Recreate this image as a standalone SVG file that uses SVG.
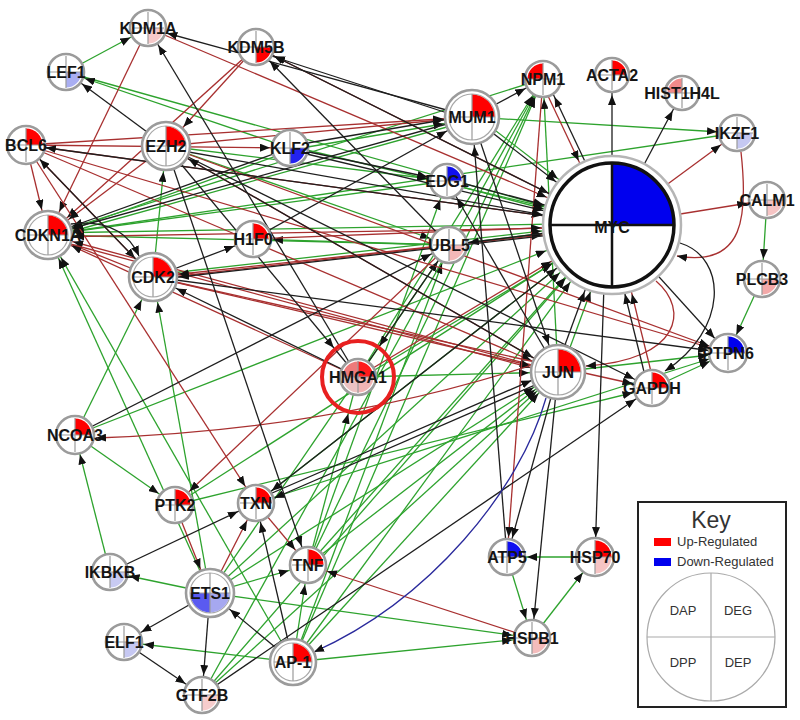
<svg xmlns="http://www.w3.org/2000/svg" width="800" height="720" viewBox="0 0 800 720">
<style>
.e path{fill:none;stroke-width:1.3}
.k path{stroke:#1e1e1e}
.r path{stroke:#a83030}
.g path{stroke:#2ea32e}
.b path{stroke:#2a2a9c}
.ring{fill:#fff;stroke:#9b9b9b;stroke-width:2.6}
.ring2{fill:none;stroke:#a8a8a8;stroke-width:1.2}
.x{stroke:#9b9b9b;stroke-width:1.2;fill:none}
.t{font-family:"Liberation Sans",Arial,sans-serif;font-weight:bold;font-size:16px;text-anchor:middle;fill:#151515}
.kt{font-family:"Liberation Sans",Arial,sans-serif;fill:#333}
</style>
<defs>
<marker id="a18" viewBox="0 0 30 8" refX="30" refY="4" markerWidth="30" markerHeight="8" markerUnits="userSpaceOnUse" orient="auto"><path d="M0,0L10,4L0,8Z" fill="#111"/></marker>
<marker id="a24" viewBox="0 0 36 8" refX="36" refY="4" markerWidth="36" markerHeight="8" markerUnits="userSpaceOnUse" orient="auto"><path d="M0,0L10,4L0,8Z" fill="#111"/></marker>
<marker id="a27" viewBox="0 0 39 8" refX="39" refY="4" markerWidth="39" markerHeight="8" markerUnits="userSpaceOnUse" orient="auto"><path d="M0,0L10,4L0,8Z" fill="#111"/></marker>
<marker id="a36" viewBox="0 0 48 8" refX="48" refY="4" markerWidth="48" markerHeight="8" markerUnits="userSpaceOnUse" orient="auto"><path d="M0,0L10,4L0,8Z" fill="#111"/></marker>
<marker id="a70" viewBox="0 0 81 8" refX="81" refY="4" markerWidth="81" markerHeight="8" markerUnits="userSpaceOnUse" orient="auto"><path d="M0,0L10,4L0,8Z" fill="#111"/></marker>
<marker id="a0" viewBox="0 0 10 8" refX="10" refY="4" markerWidth="10" markerHeight="8" markerUnits="userSpaceOnUse" orient="auto"><path d="M0,0L10,4L0,8Z" fill="#111"/></marker>
</defs>
<rect width="800" height="720" fill="#fff"/>
<g id="connectors" class="e">
<g class="g">
<path d="M66,72L148,28" marker-end="url(#a18)"/>
<path d="M66,72L612,225" marker-end="url(#a70)"/>
<path d="M290,148L66,72" marker-end="url(#a18)"/>
<path d="M166,146L449,245" marker-end="url(#a18)"/>
<path d="M290,150L472,119" marker-end="url(#a27)"/>
<path d="M290,146L612,223" marker-end="url(#a70)"/>
<path d="M290,151L48,238" marker-end="url(#a24)"/>
<path d="M472,120L48,238" marker-end="url(#a24)"/>
<path d="M447,181L48,235" marker-end="url(#a24)"/>
<path d="M449,245L48,235" marker-end="url(#a24)"/>
<path d="M612,223L48,233" marker-end="url(#a24)"/>
<path d="M210,593L48,235" marker-end="url(#a24)"/>
<path d="M293,662L48,235" marker-end="url(#a24)"/>
<path d="M737,133L48,235" marker-end="url(#a24)"/>
<path d="M153,277L166,146" marker-end="url(#a24)"/>
<path d="M153,275L612,223" marker-end="url(#a70)"/>
<path d="M75,435L153,277" marker-end="url(#a24)"/>
<path d="M210,593L153,277" marker-end="url(#a24)"/>
<path d="M472,117L737,133" marker-end="url(#a18)"/>
<path d="M474,114L614,222" marker-end="url(#a70)"/>
<path d="M358,377L543,79" marker-end="url(#a18)"/>
<path d="M308,565L543,79" marker-end="url(#a18)"/>
<path d="M558,372L543,79" marker-end="url(#a18)"/>
<path d="M543,79L48,235" marker-end="url(#a24)"/>
<path d="M561,372L615,225" marker-end="url(#a70)"/>
<path d="M449,245L612,225" marker-end="url(#a70)"/>
<path d="M447,183L612,227" marker-end="url(#a70)"/>
<path d="M358,380L612,228" marker-end="url(#a70)"/>
<path d="M293,662L612,225" marker-end="url(#a70)"/>
<path d="M210,593L612,225" marker-end="url(#a70)"/>
<path d="M308,565L612,225" marker-end="url(#a70)"/>
<path d="M202,695L612,225" marker-end="url(#a70)"/>
<path d="M75,435L612,225" marker-end="url(#a70)"/>
<path d="M256,503L612,225" marker-end="url(#a70)"/>
<path d="M358,377L558,372" marker-end="url(#a27)"/>
<path d="M293,662L558,372" marker-end="url(#a27)"/>
<path d="M210,593L558,372" marker-end="url(#a27)"/>
<path d="M308,565L558,372" marker-end="url(#a27)"/>
<path d="M202,695L558,372" marker-end="url(#a27)"/>
<path d="M558,372L728,353" marker-end="url(#a18)"/>
<path d="M652,388L728,353" marker-end="url(#a18)"/>
<path d="M175,505L652,388" marker-end="url(#a18)"/>
<path d="M256,503L728,353" marker-end="url(#a18)"/>
<path d="M762,279L728,353" marker-end="url(#a18)"/>
<path d="M767,200L762,279" marker-end="url(#a18)"/>
<path d="M595,557L507,557" marker-end="url(#a18)"/>
<path d="M507,557L532,638" marker-end="url(#a18)"/>
<path d="M532,638L595,557" marker-end="url(#a18)"/>
<path d="M293,662L532,638" marker-end="url(#a18)"/>
<path d="M210,593L532,638" marker-end="url(#a18)"/>
<path d="M75,435L175,505" marker-end="url(#a18)"/>
<path d="M110,572L75,435" marker-end="url(#a18)"/>
<path d="M210,593L110,572" marker-end="url(#a18)"/>
<path d="M293,662L124,642" marker-end="url(#a18)"/>
<path d="M293,662L308,565" marker-end="url(#a18)"/>
<path d="M210,593L308,565" marker-end="url(#a18)"/>
<path d="M308,565L358,377" marker-end="url(#a36)"/>
<path d="M449,245L253,239" marker-end="url(#a18)"/>
<path d="M308,565L447,181" marker-end="url(#a18)"/>
<path d="M293,662L449,245" marker-end="url(#a18)"/>
<path d="M202,695L543,79" marker-end="url(#a18)"/>
<path d="M166,146L447,181" marker-end="url(#a18)"/>
<path d="M175,505L612,225" marker-end="url(#a70)"/>
<path d="M293,662L543,79" marker-end="url(#a18)"/>
<path d="M210,593L449,245" marker-end="url(#a18)"/>
</g>
<g class="r">
<path d="M148,28L48,235" marker-end="url(#a24)"/>
<path d="M148,28L612,225" marker-end="url(#a70)"/>
<path d="M256,47L166,146" marker-end="url(#a24)"/>
<path d="M256,47L48,235" marker-end="url(#a24)"/>
<path d="M256,47L612,225" marker-end="url(#a70)"/>
<path d="M26,145L48,235" marker-end="url(#a24)"/>
<path d="M26,145L472,117" marker-end="url(#a27)"/>
<path d="M26,145L612,225" marker-end="url(#a70)"/>
<path d="M26,145L728,353" marker-end="url(#a18)"/>
<path d="M26,145L256,503" marker-end="url(#a18)"/>
<path d="M26,145L153,277" marker-end="url(#a24)"/>
<path d="M26,145L558,372" marker-end="url(#a27)"/>
<path d="M26,145L290,148" marker-end="url(#a18)"/>
<path d="M166,146L48,235" marker-end="url(#a24)"/>
<path d="M166,146L728,353" marker-end="url(#a18)"/>
<path d="M166,146L558,372" marker-end="url(#a27)"/>
<path d="M166,146L472,117" marker-end="url(#a27)"/>
<path d="M612,227L48,237" marker-end="url(#a24)"/>
<path d="M153,277L48,235" marker-end="url(#a24)"/>
<path d="M358,377L48,235" marker-end="url(#a24)"/>
<path d="M558,372L48,235" marker-end="url(#a24)"/>
<path d="M48,238L558,375" marker-end="url(#a27)"/>
<path d="M153,279L612,227" marker-end="url(#a70)"/>
<path d="M153,277L558,372" marker-end="url(#a27)"/>
<path d="M153,277L652,388" marker-end="url(#a18)"/>
<path d="M449,245L153,277" marker-end="url(#a24)"/>
<path d="M540,79L609,225" marker-end="url(#a70)"/>
<path d="M543,79L507,557" marker-end="url(#a18)"/>
<path d="M612,225L737,133" marker-end="url(#a18)"/>
<path d="M612,225L767,200" marker-end="url(#a18)"/>
<path d="M655,388L615,225" marker-end="url(#a70)"/>
<path d="M253,239L612,225" marker-end="url(#a70)"/>
<path d="M358,377L612,225" marker-end="url(#a70)"/>
<path d="M532,638L308,565" marker-end="url(#a18)"/>
<path d="M210,593L256,503" marker-end="url(#a18)"/>
<path d="M256,503L308,565" marker-end="url(#a18)"/>
<path d="M449,245L175,505" marker-end="url(#a18)"/>
<path d="M175,505L210,593" marker-end="url(#a24)"/>
<path d="M741,152C748,215 745,268 677,256" marker-end="url(#a0)"/>
<path d="M656,281C690,310 680,360 586,366" marker-end="url(#a0)"/>
<path d="M532,365Q330,430 96,438" marker-end="url(#a0)"/>
</g>
<g class="k">
<path d="M472,117L148,28" marker-end="url(#a18)"/>
<path d="M472,121L256,51" marker-end="url(#a18)"/>
<path d="M612,225L256,47" marker-end="url(#a18)"/>
<path d="M358,377L148,28" marker-end="url(#a18)"/>
<path d="M166,146L66,72" marker-end="url(#a18)"/>
<path d="M612,225L26,145" marker-end="url(#a18)"/>
<path d="M153,277L26,145" marker-end="url(#a18)"/>
<path d="M166,148L612,227" marker-end="url(#a70)"/>
<path d="M166,146L652,388" marker-end="url(#a18)"/>
<path d="M166,146L308,565" marker-end="url(#a18)"/>
<path d="M166,146L358,377" marker-end="url(#a36)"/>
<path d="M558,372L166,146" marker-end="url(#a24)"/>
<path d="M449,245L256,47" marker-end="url(#a18)"/>
<path d="M290,146L472,115" marker-end="url(#a27)"/>
<path d="M290,148L447,181" marker-end="url(#a18)"/>
<path d="M290,150L612,227" marker-end="url(#a70)"/>
<path d="M290,148L48,235" marker-end="url(#a24)"/>
<path d="M472,117L48,235" marker-end="url(#a24)"/>
<path d="M153,277L253,239" marker-end="url(#a18)"/>
<path d="M153,277L728,353" marker-end="url(#a18)"/>
<path d="M358,377L153,277" marker-end="url(#a24)"/>
<path d="M472,117L543,79" marker-end="url(#a18)"/>
<path d="M472,117L612,225" marker-end="url(#a70)"/>
<path d="M472,117L558,372" marker-end="url(#a27)"/>
<path d="M507,557L472,117" marker-end="url(#a27)"/>
<path d="M615,225L546,79" marker-end="url(#a18)"/>
<path d="M612,225L612,75" marker-end="url(#a18)"/>
<path d="M612,225L682,93" marker-end="url(#a18)"/>
<path d="M612,225L728,353" marker-end="url(#a18)"/>
<path d="M606,225L595,557" marker-end="url(#a18)"/>
<path d="M648,388L608,225" marker-end="url(#a70)"/>
<path d="M555,372L609,225" marker-end="url(#a70)"/>
<path d="M612,225L449,245" marker-end="url(#a18)"/>
<path d="M447,179L612,223" marker-end="url(#a70)" stroke-width="2"/>
<path d="M612,225L256,503" marker-end="url(#a18)"/>
<path d="M256,500L558,369" marker-end="url(#a27)" stroke-width="1.8"/>
<path d="M558,375L256,506" marker-end="url(#a18)"/>
<path d="M558,372L507,557" marker-end="url(#a18)"/>
<path d="M558,372L532,638" marker-end="url(#a18)"/>
<path d="M558,372L447,181" marker-end="url(#a18)"/>
<path d="M202,695L652,388" marker-end="url(#a18)"/>
<path d="M75,435L449,245" marker-end="url(#a18)"/>
<path d="M110,572L256,503" marker-end="url(#a18)"/>
<path d="M293,662L256,503" marker-end="url(#a18)"/>
<path d="M293,662L210,593" marker-end="url(#a24)"/>
<path d="M210,593L124,642" marker-end="url(#a18)"/>
<path d="M210,593L202,695" marker-end="url(#a18)"/>
<path d="M124,642L202,695" marker-end="url(#a18)"/>
<path d="M449,245L358,377" marker-end="url(#a36)"/>
<path d="M253,239L472,117" marker-end="url(#a27)"/>
<path d="M612,228L153,280" marker-end="url(#a24)"/>
<path d="M71,224Q122,218 139,256" marker-end="url(#a0)"/>
<path d="M680,243C728,258 728,330 665,371" marker-end="url(#a0)"/>
</g>
<g class="b">
<path d="M546,398C520,490 430,600 314,652" marker-end="url(#a0)"/>
</g>
</g>
<g id="node-MYC" transform="translate(612,225)">
<circle r="69" fill="#fff" stroke="#b5b5b5" stroke-width="2.5"/>
<path d="M0,0V-62A62,62 0 0 1 62,0Z" fill="#0000ee"/>
<circle r="62" fill="none" stroke="#111" stroke-width="3.5"/>
<path d="M0,-62V62M-62,0H62" stroke="#111" stroke-width="2.5"/>
<text class="t" y="8" font-size="17">MYC</text>
</g>
<g id="node-KDM1A" transform="translate(148,28)"><circle class="ring" r="18"/><path d="M0,0H15.5A15.5,15.5 0 0 1 0,15.5Z" fill="#f6c9c9"/><path class="x" d="M0,-16V16M-16,0H16"/><text class="t" y="6">KDM1A</text></g>
<g id="node-KDM5B" transform="translate(256,47)"><circle class="ring" r="18"/><path d="M0,0H15.5A15.5,15.5 0 0 1 0,15.5Z" fill="#ff0000"/><path class="x" d="M0,-16V16M-16,0H16"/><text class="t" y="6">KDM5B</text></g>
<g id="node-LEF1" transform="translate(66,72)"><circle class="ring" r="18"/><path d="M0,0H15.5A15.5,15.5 0 0 1 0,15.5Z" fill="#a9aef2"/><path class="x" d="M0,-16V16M-16,0H16"/><text class="t" y="6">LEF1</text></g>
<g id="node-BCL6" transform="translate(26,145)"><circle class="ring" r="19"/><path d="M0,0V-16.5A16.5,16.5 0 0 1 16.5,0Z" fill="#ff0000"/><path class="x" d="M0,-17V17M-17,0H17"/><text class="t" y="6">BCL6</text></g>
<g id="node-EZH2" transform="translate(166,146)"><circle class="ring" r="24"/><circle class="ring2" r="20"/><path d="M0,0V-19.5A19.5,19.5 0 0 1 19.5,0Z" fill="#ff0000"/><path class="x" d="M0,-20V20M-20,0H20"/><text class="t" y="6">EZH2</text></g>
<g id="node-KLF2" transform="translate(290,148)"><circle class="ring" r="18"/><path d="M0,0H15.5A15.5,15.5 0 0 1 0,15.5Z" fill="#2323f0"/><path class="x" d="M0,-16V16M-16,0H16"/><text class="t" y="6">KLF2</text></g>
<g id="node-CDKN1A" transform="translate(48,235)"><circle class="ring" r="24"/><circle class="ring2" r="20"/><path d="M0,0V-19.5A19.5,19.5 0 0 1 19.5,0Z" fill="#ff0000"/><path class="x" d="M0,-20V20M-20,0H20"/><text class="t" y="6">CDKN1A</text></g>
<g id="node-H1F0" transform="translate(253,239)"><circle class="ring" r="18"/><path d="M0,0V-15.5A15.5,15.5 0 0 1 15.5,0Z" fill="#ff0000"/><path class="x" d="M0,-16V16M-16,0H16"/><text class="t" y="6">H1F0</text></g>
<g id="node-CDK2" transform="translate(153,277)"><circle class="ring" r="24"/><circle class="ring2" r="20"/><path d="M0,0V-19.5A19.5,19.5 0 0 1 19.5,0Z" fill="#ff0000"/><path class="x" d="M0,-20V20M-20,0H20"/><text class="t" y="6">CDK2</text></g>
<g id="node-MUM1" transform="translate(472,117)"><circle class="ring" r="27"/><circle class="ring2" r="23"/><path d="M0,0V-22.5A22.5,22.5 0 0 1 22.5,0Z" fill="#ff0000"/><path class="x" d="M0,-23V23M-23,0H23"/><text class="t" y="6">MUM1</text></g>
<g id="node-NPM1" transform="translate(543,79)"><circle class="ring" r="18"/><path d="M0,0H-15.5A15.5,15.5 0 0 1 0,-15.5Z" fill="#ff0000"/><path class="x" d="M0,-16V16M-16,0H16"/><text class="t" y="6">NPM1</text></g>
<g id="node-ACTA2" transform="translate(612,75)"><circle class="ring" r="17"/><path d="M0,0V-14.5A14.5,14.5 0 0 1 14.5,0Z" fill="#ff0000"/><path class="x" d="M0,-15V15M-15,0H15"/><text class="t" y="6">ACTA2</text></g>
<g id="node-HIST1H4L" transform="translate(682,93)"><circle class="ring" r="17"/><path d="M0,0H-14.5A14.5,14.5 0 0 1 0,-14.5Z" fill="#f28a8a"/><path class="x" d="M0,-15V15M-15,0H15"/><text class="t" y="6">HIST1H4L</text></g>
<g id="node-IKZF1" transform="translate(737,133)"><circle class="ring" r="18"/><path d="M0,0H15.5A15.5,15.5 0 0 1 0,15.5Z" fill="#c5c8f2"/><path class="x" d="M0,-16V16M-16,0H16"/><text class="t" y="6">IKZF1</text></g>
<g id="node-CALM1" transform="translate(767,200)"><circle class="ring" r="18"/><path d="M0,0H15.5A15.5,15.5 0 0 1 0,15.5Z" fill="#f6c4c4"/><path class="x" d="M0,-16V16M-16,0H16"/><text class="t" y="6">CALM1</text></g>
<g id="node-PLCB3" transform="translate(762,279)"><circle class="ring" r="18"/><path d="M0,0H15.5A15.5,15.5 0 0 1 0,15.5Z" fill="#f3a9a9"/><path class="x" d="M0,-16V16M-16,0H16"/><text class="t" y="6">PLCB3</text></g>
<g id="node-PTPN6" transform="translate(728,353)"><circle class="ring" r="19"/><path d="M0,0V-16.5A16.5,16.5 0 0 1 16.5,0Z" fill="#0000ee"/><path class="x" d="M0,-17V17M-17,0H17"/><text class="t" y="6">PTPN6</text></g>
<g id="node-EDG1" transform="translate(447,181)"><circle class="ring" r="17"/><path d="M0,0V-14.5A14.5,14.5 0 0 1 14.5,0Z" fill="#1010ee"/><path class="x" d="M0,-15V15M-15,0H15"/><text class="t" y="6">EDG1</text></g>
<g id="node-UBL5" transform="translate(449,245)"><circle class="ring" r="18"/><path d="M0,0H15.5A15.5,15.5 0 0 1 0,15.5Z" fill="#f4b8b8"/><path class="x" d="M0,-16V16M-16,0H16"/><text class="t" y="6">UBL5</text></g>
<g id="node-HMGA1" transform="translate(358,377)"><circle r="36" fill="none" stroke="#e82020" stroke-width="4"/><circle class="ring" r="18"/><path d="M0,0H-15.5A15.5,15.5 0 0 1 0,-15.5Z" fill="#ee7a7a"/><path d="M0,0V-15.5A15.5,15.5 0 0 1 15.5,0Z" fill="#ff1a1a"/><path d="M0,0H15.5A15.5,15.5 0 0 1 0,15.5Z" fill="#f2b5b5"/><path d="M0,0V15.5A15.5,15.5 0 0 1 -15.5,0Z" fill="#ecc3c3"/><path class="x" d="M0,-16V16M-16,0H16"/><text class="t" y="6">HMGA1</text></g>
<g id="node-JUN" transform="translate(558,372)"><circle class="ring" r="27"/><circle class="ring2" r="23"/><path d="M0,0V-22.5A22.5,22.5 0 0 1 22.5,0Z" fill="#ff0000"/><path class="x" d="M0,-23V23M-23,0H23"/><text class="t" y="6">JUN</text></g>
<g id="node-GAPDH" transform="translate(652,388)"><circle class="ring" r="18"/><path d="M0,0V-15.5A15.5,15.5 0 0 1 15.5,0Z" fill="#ff0000"/><path class="x" d="M0,-16V16M-16,0H16"/><text class="t" y="6">GAPDH</text></g>
<g id="node-NCOA3" transform="translate(75,435)"><circle class="ring" r="19"/><path d="M0,0V-16.5A16.5,16.5 0 0 1 16.5,0Z" fill="#ff0000"/><path class="x" d="M0,-17V17M-17,0H17"/><text class="t" y="6">NCOA3</text></g>
<g id="node-PTK2" transform="translate(175,505)"><circle class="ring" r="18"/><path d="M0,0V-15.5A15.5,15.5 0 0 1 15.5,0Z" fill="#ff0000"/><path class="x" d="M0,-16V16M-16,0H16"/><text class="t" y="6">PTK2</text></g>
<g id="node-TXN" transform="translate(256,503)"><circle class="ring" r="18"/><path d="M0,0V-15.5A15.5,15.5 0 0 1 15.5,0Z" fill="#ff0000"/><path class="x" d="M0,-16V16M-16,0H16"/><text class="t" y="6">TXN</text></g>
<g id="node-TNF" transform="translate(308,565)"><circle class="ring" r="18"/><path d="M0,0V-15.5A15.5,15.5 0 0 1 15.5,0Z" fill="#ff0000"/><path class="x" d="M0,-16V16M-16,0H16"/><text class="t" y="6">TNF</text></g>
<g id="node-IKBKB" transform="translate(110,572)"><circle class="ring" r="18"/><path d="M0,0H15.5A15.5,15.5 0 0 1 0,15.5Z" fill="#c8caf2"/><path class="x" d="M0,-16V16M-16,0H16"/><text class="t" y="6">IKBKB</text></g>
<g id="node-ETS1" transform="translate(210,593)"><circle class="ring" r="24"/><circle class="ring2" r="20"/><path d="M0,0V19.5A19.5,19.5 0 0 1 -19.5,0Z" fill="#5a5af0"/><path d="M0,0H19.5A19.5,19.5 0 0 1 0,19.5Z" fill="#a6a8f0"/><path class="x" d="M0,-20V20M-20,0H20"/><text class="t" y="6">ETS1</text></g>
<g id="node-ELF1" transform="translate(124,642)"><circle class="ring" r="18"/><path d="M0,0H15.5A15.5,15.5 0 0 1 0,15.5Z" fill="#c6c8f2"/><path class="x" d="M0,-16V16M-16,0H16"/><text class="t" y="6">ELF1</text></g>
<g id="node-GTF2B" transform="translate(202,695)"><circle class="ring" r="18"/><path d="M0,0H15.5A15.5,15.5 0 0 1 0,15.5Z" fill="#f6cccc"/><path class="x" d="M0,-16V16M-16,0H16"/><text class="t" y="6">GTF2B</text></g>
<g id="node-AP-1" transform="translate(293,662)"><circle class="ring" r="23"/><circle class="ring2" r="19"/><path d="M0,0V-18.5A18.5,18.5 0 0 1 18.5,0Z" fill="#ff0000"/><path class="x" d="M0,-19V19M-19,0H19"/><text class="t" y="6">AP-1</text></g>
<g id="node-ATP5" transform="translate(507,557)"><circle class="ring" r="18"/><path d="M0,0V-15.5A15.5,15.5 0 0 1 15.5,0Z" fill="#1010f0"/><path class="x" d="M0,-16V16M-16,0H16"/><text class="t" y="6">ATP5</text></g>
<g id="node-HSP70" transform="translate(595,557)"><circle class="ring" r="19"/><path d="M0,0V-16.5A16.5,16.5 0 0 1 16.5,0Z" fill="#ff0000"/><path d="M0,0H16.5A16.5,16.5 0 0 1 0,16.5Z" fill="#f6c4c4"/><path class="x" d="M0,-17V17M-17,0H17"/><text class="t" y="6">HSP70</text></g>
<g id="node-HSPB1" transform="translate(532,638)"><circle class="ring" r="18"/><path d="M0,0H15.5A15.5,15.5 0 0 1 0,15.5Z" fill="#f4bcbc"/><path class="x" d="M0,-16V16M-16,0H16"/><text class="t" y="6">HSPB1</text></g>
<g id="key">
<rect x="638" y="502" width="148" height="205" fill="#fff" stroke="#222" stroke-width="2"/>
<text class="kt" x="711" y="528" font-size="23" text-anchor="middle" fill="#111">Key</text>
<rect x="654" y="538" width="17" height="8" fill="#ff0000"/>
<text class="kt" x="677" y="546" font-size="13">Up-Regulated</text>
<rect x="654" y="558" width="17" height="8" fill="#0000ee"/>
<text class="kt" x="677" y="566" font-size="13">Down-Regulated</text>
<circle cx="711" cy="637" r="64" fill="none" stroke="#aaa" stroke-width="1.2"/>
<path d="M711,573V701M647,637H775" stroke="#aaa" stroke-width="1.2"/>
<text class="kt" x="683" y="615" font-size="13" text-anchor="middle">DAP</text>
<text class="kt" x="738" y="615" font-size="13" text-anchor="middle">DEG</text>
<text class="kt" x="683" y="667" font-size="13" text-anchor="middle">DPP</text>
<text class="kt" x="738" y="667" font-size="13" text-anchor="middle">DEP</text>
</g>
</svg>
